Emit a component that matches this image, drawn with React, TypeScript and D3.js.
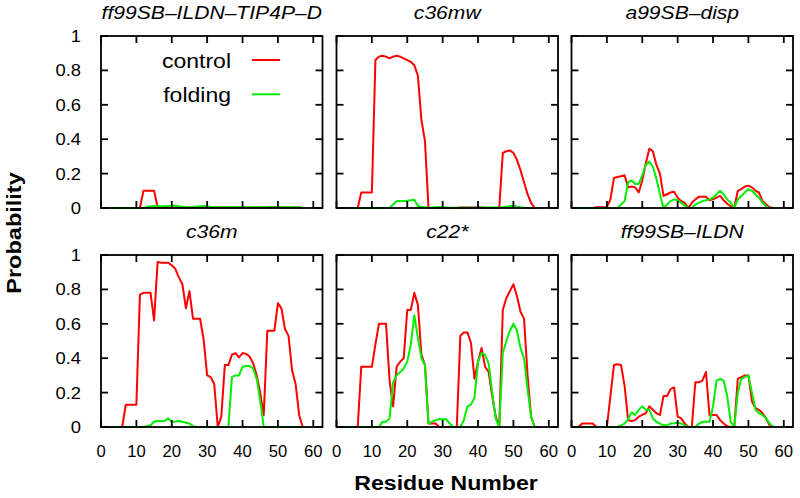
import React from 'react';
import * as d3 from 'd3';

const W = 800;
const H = 498;

const titles = ["ff99SB–ILDN–TIP4P–D", "c36mw", "a99SB–disp", "c36m", "c22*", "ff99SB–ILDN"];
const xTicks = [0, 10, 20, 30, 40, 50, 60];
const yTicks = [0, 0.2, 0.4, 0.6, 0.8, 1];
const yTickLabels = ["0", "0.2", "0.4", "0.6", "0.8", "1"];
const legendLabels = ["control", "folding"];
const residues = d3.range(1, 58);

// ff99SB-ILDN-TIP4P-D
const p1Control = [0,0,0,0,0,0,0,0,0,0, 0,0.1,0.1,0.1,0.1,0.004,0.003,0.003,0.003,0.003,
  0.003,0.003,0.003,0.003,0.003,0.003,0.003,0.003,0.003,0.003, 0.003,0.003,0.003,0.003,0.003,0.003,0.003,0.003,0.003,0.003,
  0.003,0.003,0.003,0.003,0.003,0.003,0.003,0.006,0.006,0.006, 0.003,0.003,0.003,0.003,0.003,0.003,0];
const p1Folding = [0,0,0,0,0,0,0,0,0,0, 0,0,0.006,0.01,0.012,0.012,0.01,0.01,0.012,0.012,
  0.014,0.01,0.008,0.005,0.005,0.006,0.008,0.01,0.012,0.01, 0.006,0.004,0.004,0.004,0.004,0.004,0.004,0.004,0.004,0.004,
  0.004,0.004,0.004,0.004,0.004,0.004,0.004,0.004,0.004,0.004, 0.004,0.004,0.004,0.004,0.004,0.004,0];
// c36mw
const p2Control = [0,0,0,0,0,0,0.09,0.09,0.09,0.09, 0.86,0.88,0.885,0.88,0.87,0.88,0.885,0.88,0.87,0.86,
  0.85,0.83,0.77,0.51,0.39,0,0,0,0,0, 0,0,0,0,0.003,0.003,0.003,0.003,0.003,0.003,
  0.003,0,0,0,0,0,0.32,0.33,0.335,0.32, 0.28,0.22,0.15,0.08,0.03,0,0];
const p2Folding = [0,0,0,0,0,0,0,0,0,0, 0,0,0,0,0,0.02,0.04,0.04,0.04,0.042,
  0.045,0.048,0.012,0.008,0.005,0.002,0.003,0.005,0.006,0.005, 0.003,0.001,0.001,0.001,0.001,0.001,0.001,0.001,0.001,0.001,
  0.003,0.003,0.003,0.003,0.003,0.003,0.005,0.008,0.01,0.015, 0.008,0.004,0.002,0,0,0,0];
// a99SB-disp
const p3Control = [0,0,0,0,0,0,0.005,0.005,0.005,0.005, 0.05,0.175,0.18,0.185,0.19,0.12,0.125,0.12,0.09,0.16,
  0.26,0.345,0.33,0.25,0.2,0.07,0.08,0.09,0.095,0.06, 0.04,0.03,0,0.03,0.05,0.065,0.065,0.065,0.045,0.05,
  0.06,0.07,0.045,0.025,0.01,0,0.1,0.11,0.125,0.13, 0.12,0.1,0.09,0.04,0.02,0.005,0];
const p3Folding = [0,0,0,0,0,0,0,0,0,0, 0,0,0,0.02,0.04,0.15,0.16,0.14,0.14,0.19,
  0.25,0.27,0.24,0.17,0.08,0,0.02,0.04,0.05,0.045, 0.03,0.015,0,0,0.02,0.03,0.04,0.045,0.05,0.06,
  0.08,0.1,0.08,0.05,0.03,0,0.05,0.07,0.09,0.11, 0.1,0.08,0.06,0.03,0.01,0,0];
// c36m
const p4Control = [0,0,0,0,0,0,0.13,0.13,0.13,0.13, 0.77,0.78,0.78,0.78,0.62,0.96,0.955,0.955,0.955,0.94,
  0.92,0.87,0.83,0.69,0.79,0.63,0.63,0.63,0.51,0.3, 0.29,0.25,0,0.06,0.36,0.36,0.42,0.43,0.405,0.43,
  0.425,0.41,0.37,0.3,0.2,0.07,0.56,0.56,0.56,0.72, 0.69,0.57,0.53,0.33,0.25,0.07,0];
const p4Folding = [0,0,0,0,0,0,0,0,0,0, 0,0,0.005,0.01,0.03,0.035,0.035,0.035,0.05,0.03,
  0.032,0.035,0.03,0.025,0.02,0.005,0,0,0,0, 0,0,0,0,0,0,0.29,0.3,0.3,0.35,
  0.355,0.355,0.34,0.28,0.15,0,0,0,0,0, 0,0,0,0,0,0,0];
// c22*
const p5Control = [0,0,0,0,0,0,0.35,0.35,0.35,0.35, 0.48,0.6,0.6,0.6,0.27,0.12,0.35,0.38,0.4,0.68,
  0.68,0.78,0.71,0.42,0.36,0.02,0.02,0.02,0,0, 0,0,0,0,0.53,0.55,0.55,0.49,0.28,0.38,
  0.46,0.35,0.32,0.18,0.06,0,0.68,0.75,0.79,0.83, 0.76,0.67,0.63,0.3,0.06,0,0];
const p5Folding = [0,0,0,0,0,0,0,0,0,0, 0,0,0.03,0.03,0.05,0.26,0.3,0.32,0.34,0.38,
  0.48,0.65,0.52,0.4,0.36,0.02,0.03,0.04,0.045,0.045, 0.045,0.02,0,0,0,0.04,0.12,0.13,0.17,0.38,
  0.43,0.42,0.37,0.2,0.05,0,0.43,0.5,0.56,0.6, 0.56,0.46,0.4,0.22,0.06,0,0];
// ff99SB-ILDN
const p6Control = [0,0,0.02,0.02,0.02,0.02,0,0,0,0, 0.18,0.36,0.365,0.36,0.24,0.04,0.035,0.04,0.06,0.07,
  0.08,0.12,0.1,0.08,0.07,0.18,0.18,0.22,0.23,0.06, 0.05,0.02,0,0,0.26,0.26,0.27,0.32,0.07,0.07,
  0.07,0.04,0.02,0.005,0,0,0.28,0.29,0.3,0.3, 0.15,0.11,0.1,0.08,0.05,0.01,0];
const p6Folding = [0,0,0,0,0,0,0,0,0,0, 0,0,0,0.01,0.02,0.045,0.085,0.07,0.1,0.12,
  0.1,0.1,0.05,0.03,0.02,0.01,0.01,0.02,0.022,0.025, 0.02,0.01,0,0,0,0.02,0.03,0.03,0.03,0.12,
  0.27,0.28,0.27,0.18,0.03,0,0.2,0.28,0.29,0.3, 0.2,0.1,0.08,0.07,0.05,0.02,0];

const controlSeries = [p1Control, p2Control, p3Control, p4Control, p5Control, p6Control];
const foldingSeries = [p1Folding, p2Folding, p3Folding, p4Folding, p5Folding, p6Folding];

const colLeft = [101, 336.5, 571.5];
const rowTop = [36, 255];
const PW = 221.5;
const PH = 172;
const FONT = "'Liberation Sans', Arial, Helvetica, sans-serif";
const RED = "#ff0000";
const GREEN = "#00ee00";

export default function App() {
  const x = d3.scaleLinear().domain([0, 62.6]).range([0, PW]);
  const y = d3.scaleLinear().domain([0, 1]).range([PH, 0]);
  const line = d3.line<number>().x((_, i) => x(residues[i])).y((d) => y(d));
  const tickLen = 7;

  return (
    <svg width={W} height={H} style={{ position: 'absolute', left: 0, top: 0, background: '#fff' }} fontFamily={FONT}>
      <rect x={0} y={0} width={W} height={H} fill="#fff" />
      {titles.map((t, k) => {
        const r = Math.floor(k / 3);
        const c = k % 3;
        const left = colLeft[c];
        const top = rowTop[r];
        return (
          <g key={k} transform={`translate(${left},${top})`}>
            <path d={line(controlSeries[k]) || ''} fill="none" stroke={RED} strokeWidth={2} strokeLinejoin="round" />
            <path d={line(foldingSeries[k]) || ''} fill="none" stroke={GREEN} strokeWidth={2} strokeLinejoin="round" />
            <rect x={0} y={0} width={PW} height={PH} fill="none" stroke="#000" strokeWidth={1.8} />
            {xTicks.map((v) => (
              <g key={'xt' + v}>
                <line x1={x(v)} x2={x(v)} y1={0} y2={tickLen} stroke="#000" strokeWidth={1.8} />
                <line x1={x(v)} x2={x(v)} y1={PH} y2={PH - tickLen} stroke="#000" strokeWidth={1.8} />
              </g>
            ))}
            {yTicks.map((v) => (
              <g key={'yt' + v}>
                <line x1={0} x2={tickLen} y1={y(v)} y2={y(v)} stroke="#000" strokeWidth={1.8} />
                <line x1={PW} x2={PW - tickLen} y1={y(v)} y2={y(v)} stroke="#000" strokeWidth={1.8} />
              </g>
            ))}
            <text transform={`translate(${PW / 2},${-17.5}) scale(1.14,1)`} textAnchor="middle" fontSize={18.5} fontStyle="italic">{t}</text>
            {c === 0 && yTicks.map((v, i) => (
              <text key={'yl' + v} transform={`translate(-20,${y(v) + 6}) scale(1.15,1)`} textAnchor="end" fontSize={16}>{yTickLabels[i]}</text>
            ))}
            {r === 1 && xTicks.map((v) => (
              <text key={'xl' + v} transform={`translate(${x(v)},${PH + 29.5}) scale(1.04,1)`} textAnchor="middle" fontSize={16}>{String(v)}</text>
            ))}
          </g>
        );
      })}
      {/* legend */}
      <text transform="translate(231,67.5) scale(1.15,1)" textAnchor="end" fontSize={20}>{legendLabels[0]}</text>
      <line x1={252} x2={280} y1={60} y2={60} stroke={RED} strokeWidth={2} />
      <text transform="translate(231,101.5) scale(1.15,1)" textAnchor="end" fontSize={20}>{legendLabels[1]}</text>
      <line x1={252} x2={280} y1={94.3} y2={94.3} stroke={GREEN} strokeWidth={2} />
      {/* axis titles */}
      <text transform="translate(446,490) scale(1.1,1)" textAnchor="middle" fontSize={21} fontWeight="bold">Residue Number</text>
      <text transform="translate(21,233) rotate(-90) scale(1.12,1)" textAnchor="middle" fontSize={21} fontWeight="bold">Probability</text>
    </svg>
  );
}
